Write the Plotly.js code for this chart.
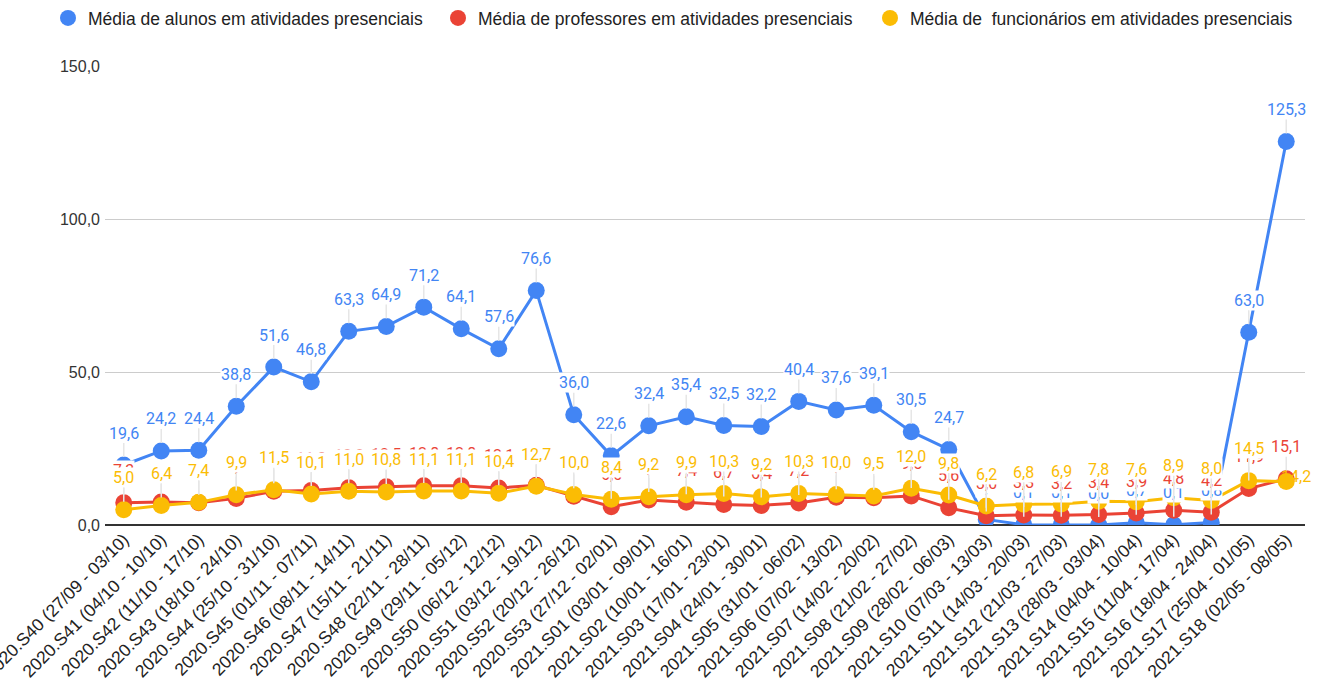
<!DOCTYPE html>
<html>
<head>
<meta charset="utf-8">
<script src="https://cdn.plot.ly/plotly-3.0.1.min.js"></script>
<style>html,body{margin:0;padding:0;background:#fff;}#chart{width:1320px;height:690px;}</style>
</head>
<body>
<div id="chart"></div>
<script>
const weeks = [
  "2020.S40 (27/09 - 03/10)", "2020.S41 (04/10 - 10/10)", "2020.S42 (11/10 - 17/10)",
  "2020.S43 (18/10 - 24/10)", "2020.S44 (25/10 - 31/10)", "2020.S45 (01/11 - 07/11)",
  "2020.S46 (08/11 - 14/11)", "2020.S47 (15/11 - 21/11)", "2020.S48 (22/11 - 28/11)",
  "2020.S49 (29/11 - 05/12)", "2020.S50 (06/12 - 12/12)", "2020.S51 (03/12 - 19/12)",
  "2020.S52 (20/12 - 26/12)", "2020.S53 (27/12 - 02/01)", "2021.S01 (03/01 - 09/01)",
  "2021.S02 (10/01 - 16/01)", "2021.S03 (17/01 - 23/01)", "2021.S04 (24/01 - 30/01)",
  "2021.S05 (31/01 - 06/02)", "2021.S06 (07/02 - 13/02)", "2021.S07 (14/02 - 20/02)",
  "2021.S08 (21/02 - 27/02)", "2021.S09 (28/02 - 06/03)", "2021.S10 (07/03 - 13/03)",
  "2021.S11 (14/03 - 20/03)", "2021.S12 (21/03 - 27/03)", "2021.S13 (28/03 - 03/04)",
  "2021.S14 (04/04 - 10/04)", "2021.S15 (11/04 - 17/04)", "2021.S16 (18/04 - 24/04)",
  "2021.S17 (25/04 - 01/05)", "2021.S18 (02/05 - 08/05)"
];

const alunos = [19.6, 24.2, 24.4, 38.8, 51.6, 46.8, 63.3, 64.9, 71.2, 64.1, 57.6, 76.6,
  36.0, 22.6, 32.4, 35.4, 32.5, 32.2, 40.4, 37.6, 39.1, 30.5, 24.7, 1.8, 0.1, 0.1, 0.0,
  0.7, 0.1, 0.8, 63.0, 125.3];

const professores = [7.3, 7.5, 7.3, 8.7, 11.0, 11.3, 12.2, 12.5, 12.8, 12.8, 12.1, 13.0,
  9.4, 6.0, 8.2, 7.4, 6.7, 6.4, 7.2, 9.1, 8.9, 9.5, 5.6, 3.0, 3.3, 3.2, 3.4,
  3.9, 4.8, 4.2, 11.9, 15.1];

const funcionarios = [5.0, 6.4, 7.4, 9.9, 11.5, 10.1, 11.0, 10.8, 11.1, 11.1, 10.4, 12.7,
  10.0, 8.4, 9.2, 9.9, 10.3, 9.2, 10.3, 10.0, 9.5, 12.0, 9.8, 6.2, 6.8, 6.9, 7.8,
  7.6, 8.9, 8.0, 14.5, 14.2];

const seriesNames = [
  "Média de alunos em atividades presenciais",
  "Média de professores em atividades presenciais",
  "Média de  funcionários em atividades presenciais"
];
const colors = ["#4285F4", "#EA4335", "#FBBC04"];
const seriesData = [alunos, professores, funcionarios];
const legendIds = ["legend", "legend2", "legend3"];
const legendLeft = [48, 438, 870];

const traces = [];
seriesData.forEach((vals, i) => {
  traces.push({
    x: weeks, y: vals, type: "scatter", mode: "lines+markers",
    line: {color: colors[i], width: 3},
    marker: {color: colors[i], size: 17},
    showlegend: false, hoverinfo: "x+y"
  });
});
seriesData.forEach((vals, i) => {
  traces.push({
    x: [null], y: [null], type: "scatter", mode: "markers",
    marker: {color: colors[i], size: 16},
    name: seriesNames[i], showlegend: true, legend: legendIds[i]
  });
});

const annotations = [];
seriesData.forEach((vals, i) => {
  vals.forEach((v, j) => {
    const ann = {
      x: weeks[j], y: v, xref: "x", yref: "y",
      text: v.toFixed(1).replace(".", ","),
      showarrow: true, arrowhead: 0, arrowwidth: 1.5, arrowcolor: "#e6e6e6",
      ax: 0, ay: -32, standoff: 8,
      bgcolor: "rgba(255,255,255,1)", borderpad: 0,
      font: {family: "Roboto, sans-serif", size: 16, color: colors[i]}
    };
    // last yellow label is nudged beside its marker in the reference
    if (i === 2 && j === vals.length - 1) {
      ann.showarrow = false; ann.xshift = 10; ann.yshift = 5;
      ann.bgcolor = "rgba(255,255,255,0)";
    }
    annotations.push(ann);
  });
});

const layout = {
  width: 1320, height: 690,
  margin: {l: 105, r: 15, t: 66, b: 165},
  paper_bgcolor: "#fff", plot_bgcolor: "#fff",
  separators: ",.",
  showlegend: true,
  xaxis: {
    type: "category", range: [-0.5, weeks.length - 0.5],
    tickangle: -45, showgrid: false, zeroline: false,
    showline: false, ticks: "", automargin: false,
    tickfont: {family: "Liberation Sans, Arial, sans-serif", size: 17.5, color: "#222"}
  },
  yaxis: {
    range: [0, 150], tickvals: [0, 50, 100, 150], tickformat: ".1f",
    showgrid: true, gridcolor: "#cccccc", gridwidth: 1,
    zeroline: true, zerolinecolor: "#333333", zerolinewidth: 1.5,
    ticks: "", automargin: false, ticklabelstandoff: 4,
    tickfont: {family: "Liberation Sans, Arial, sans-serif", size: 16, color: "#333"}
  },
  annotations: annotations,
  hovermode: "closest"
};
legendIds.forEach((id, i) => {
  layout[id] = {
    orientation: "h", xref: "container", yref: "container",
    x: legendLeft[i] / 1320, xanchor: "left", y: 1 - 18/690, yanchor: "middle",
    font: {family: "Liberation Sans, Arial, sans-serif", size: 17.5, color: "#222"},
    itemsizing: "trace", bgcolor: "rgba(0,0,0,0)", borderwidth: 0
  };
});

Plotly.newPlot("chart", traces, layout, {displayModeBar: false, responsive: false});
</script>
</body>
</html>
